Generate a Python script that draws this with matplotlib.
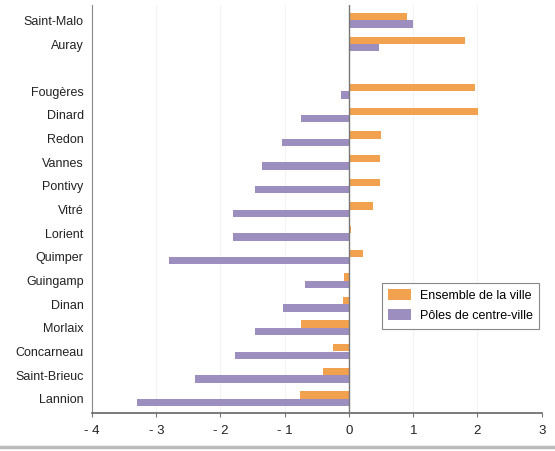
import numpy as np
import matplotlib
matplotlib.use("Agg")
import matplotlib.pyplot as plt
from matplotlib import font_manager

# cities, bottom to top (empty slot between Auray and Fougeres)
CITIES = ['Lannion', 'Saint-Brieuc', 'Concarneau', 'Morlaix', 'Dinan',
          'Guingamp', 'Quimper', 'Lorient', 'Vitré', 'Pontivy', 'Vannes',
          'Redon', 'Dinard', 'Fougères', '', 'Auray', 'Saint-Malo']

# "Ensemble de la ville" (orange)
ENSEMBLE = [-0.76, -0.40, -0.25, -0.75, -0.09, -0.07, 0.22, 0.03, 0.37,
            0.48, 0.48, 0.50, 2.01, 1.96, np.nan, 1.81, 0.91]
# "Poles de centre-ville" (purple)
POLES = [-3.30, -2.39, -1.77, -1.46, -1.03, -0.68, -2.80, -1.80, -1.80,
         -1.46, -1.35, -1.05, -0.74, -0.13, np.nan, 0.47, 1.00]

XTICKS = [-4, -3, -2, -1, 0, 1, 2, 3]
XTICK_LABELS = ['- 4', '- 3', '- 2', '- 1', '0', '1', '2', '3']

ORANGE = '#F2A14F'
PURPLE = '#9C8FC0'

names = {f.name for f in font_manager.fontManager.ttflist}
if 'Liberation Sans Narrow' in names:
    plt.rcParams['font.family'] = ['Liberation Sans Narrow', 'DejaVu Sans']
    FS = 10
else:
    plt.rcParams['font.family'] = ['Liberation Sans', 'DejaVu Sans']
    FS = 9

fig = plt.figure(figsize=(5.55, 4.51), dpi=100)
ax = fig.add_axes([0.1658, 0.085, 0.976 - 0.1658, 0.904])

y = np.arange(len(CITIES))
h = 0.31
ax.barh(y + 0.16, ENSEMBLE, height=h, color=ORANGE, label='Ensemble de la ville', zorder=3)
ax.barh(y - 0.16, POLES, height=h, color=PURPLE, label='Pôles de centre-ville', zorder=3)

ax.set_xlim(-4, 3)
ax.set_ylim(-0.58, 16.65)
ax.set_yticks(y)
ax.set_yticklabels(CITIES, fontsize=FS, color='#222222')
ax.set_xticks(XTICKS)
ax.set_xticklabels(XTICK_LABELS, fontsize=FS + 0.5, color='#222222')
ax.tick_params(axis='y', length=0, pad=6)
ax.tick_params(axis='x', length=3, color='#777777', pad=6)

for xv in [-3, -2, -1, 1, 2]:
    ax.axvline(xv, color='#f2f2f2', lw=0.8, zorder=1)
ax.axvline(0, color='#777777', lw=1.0, zorder=4)

for s in ['top', 'right']:
    ax.spines[s].set_visible(False)
ax.spines['left'].set_color('#888888')
ax.spines['bottom'].set_color('#666666')
ax.spines['bottom'].set_linewidth(1.2)

leg = ax.legend(loc='upper left', bbox_to_anchor=(0.644, 0.319), borderaxespad=0,
                fontsize=FS, fancybox=False, framealpha=1, edgecolor='#888888',
                handlelength=1.8, handleheight=0.9, handletextpad=0.7,
                borderpad=0.55, labelspacing=0.6)
leg.get_frame().set_linewidth(0.8)

# grey band at the very bottom
fig.add_artist(plt.Line2D([0, 1], [0.008, 0.008], color='#bbbbbb', lw=2.5))

fig.savefig('out.png', dpi=100)
